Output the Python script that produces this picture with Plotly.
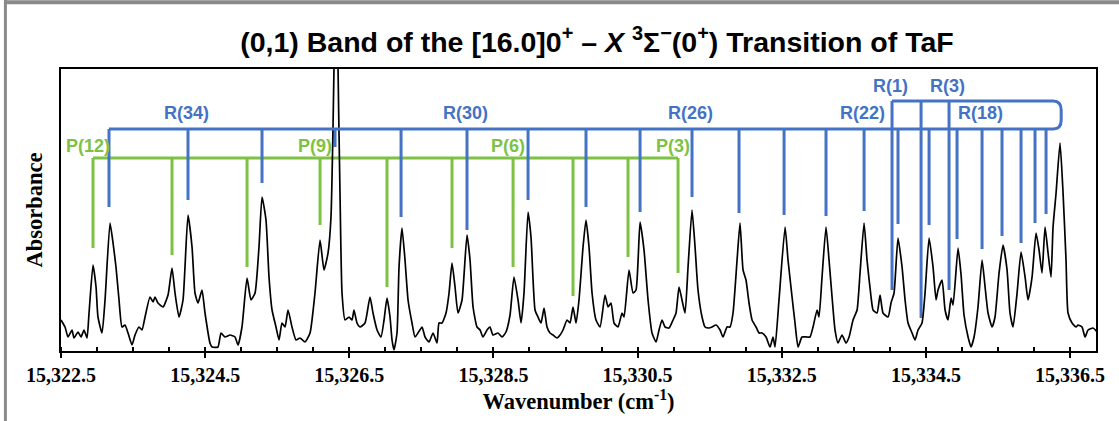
import plotly.graph_objects as go

# ---------------- data ----------------
wavenumber = [
    15322.500, 15322.556, 15322.597, 15322.653, 15322.680, 15322.736, 15322.778, 15322.819, 15322.861, 15322.889,
    15322.944, 15322.986, 15323.013, 15323.069, 15323.111, 15323.180, 15323.222, 15323.263, 15323.305, 15323.346,
    15323.388, 15323.430, 15323.485, 15323.527, 15323.582, 15323.624, 15323.666, 15323.735, 15323.777, 15323.804,
    15323.846, 15323.915, 15323.985, 15324.040, 15324.082, 15324.137, 15324.193, 15324.262, 15324.318, 15324.359,
    15324.401, 15324.456, 15324.498, 15324.567,
    15324.595, 15324.678, 15324.720, 15324.776, 15324.845, 15324.914, 15324.956, 15325.011, 15325.081, 15325.136,
    15325.192, 15325.247, 15325.289, 15325.344, 15325.386, 15325.428, 15325.483, 15325.525, 15325.566, 15325.608,
    15325.650, 15325.705, 15325.761, 15325.816, 15325.886, 15325.955, 15326.024, 15326.094, 15326.149, 15326.205,
    15326.246, 15326.274, 15326.295, 15326.316, 15326.336, 15326.371, 15326.399, 15326.441, 15326.496, 15326.538,
    15326.565, 15326.607,
    15326.649, 15326.718, 15326.787, 15326.829, 15326.885, 15326.940, 15326.982, 15327.023, 15327.065, 15327.093,
    15327.120, 15327.162, 15327.190, 15327.231, 15327.273, 15327.315, 15327.370, 15327.412, 15327.453, 15327.509,
    15327.551, 15327.606, 15327.662, 15327.717, 15327.745, 15327.786, 15327.842, 15327.884, 15327.925, 15327.967,
    15328.008, 15328.064, 15328.133, 15328.175, 15328.217, 15328.272, 15328.314, 15328.355, 15328.411, 15328.452,
    15328.494, 15328.563, 15328.619, 15328.674, 15328.730, 15328.785,
    15328.841, 15328.883, 15328.924, 15328.980, 15329.021, 15329.077, 15329.118, 15329.160, 15329.202, 15329.243,
    15329.285, 15329.327, 15329.382, 15329.424, 15329.465, 15329.521, 15329.562, 15329.604, 15329.646, 15329.687,
    15329.743, 15329.784, 15329.826, 15329.868, 15329.923, 15329.979, 15330.048, 15330.090, 15330.131, 15330.173,
    15330.228, 15330.284, 15330.312, 15330.381, 15330.437, 15330.478, 15330.534, 15330.589, 15330.645, 15330.700,
    15330.756,
    15330.797, 15330.839, 15330.881, 15330.936, 15330.992, 15331.033, 15331.075, 15331.116, 15331.158, 15331.200,
    15331.255, 15331.297, 15331.338, 15331.394, 15331.436, 15331.491, 15331.533, 15331.588, 15331.644, 15331.685,
    15331.741, 15331.782, 15331.824, 15331.880, 15331.921, 15331.963, 15332.004, 15332.046, 15332.088, 15332.143,
    15332.185, 15332.226, 15332.282, 15332.337, 15332.379, 15332.407, 15332.462, 15332.546, 15332.587, 15332.643,
    15332.684, 15332.726, 15332.781, 15332.851,
    15332.892, 15332.934, 15332.990, 15333.017, 15333.059, 15333.114, 15333.156, 15333.198, 15333.239, 15333.281,
    15333.336, 15333.392, 15333.434, 15333.489, 15333.545, 15333.586, 15333.642, 15333.683, 15333.739, 15333.767,
    15333.822, 15333.864, 15333.905, 15333.975, 15334.016, 15334.058, 15334.113, 15334.169, 15334.211, 15334.252,
    15334.308, 15334.349, 15334.391, 15334.446, 15334.488, 15334.544, 15334.599, 15334.641, 15334.668, 15334.724,
    15334.766, 15334.807, 15334.849, 15334.877, 15334.946, 15334.988, 15335.029,
    15335.085, 15335.126, 15335.168, 15335.223, 15335.279, 15335.321, 15335.362, 15335.418, 15335.459, 15335.515,
    15335.570, 15335.626, 15335.667, 15335.709, 15335.765, 15335.820, 15335.876, 15335.917, 15335.973, 15336.028,
    15336.070, 15336.111, 15336.153, 15336.195, 15336.236, 15336.264, 15336.306, 15336.361, 15336.403, 15336.444,
    15336.472, 15336.528, 15336.583, 15336.611, 15336.666, 15336.708, 15336.750, 15336.819, 15336.875,
]
absorbance = [
    0.31, 0.24, 0.14, 0.21, 0.13, 0.19, 0.14, 0.21, 0.13, 0.38,
    0.86, 0.64, 0.34, 0.18, 0.51, 1.28, 1.08, 0.84, 0.51, 0.24,
    0.26, 0.18, 0.06, 0.16, 0.24, 0.21, 0.34, 0.54, 0.49, 0.54,
    0.48, 0.44, 0.56, 0.83, 0.58, 0.34, 0.51, 1.36, 1.04, 0.58,
    0.48, 0.61, 0.38, 0.08,
    0.04, 0.04, 0.18, 0.14, 0.16, 0.14, 0.06, 0.24, 0.73, 0.51,
    0.58, 1.04, 1.54, 1.31, 0.74, 0.41, 0.24, 0.11, 0.28, 0.24,
    0.41, 0.24, 0.11, 0.13, 0.09, 0.18, 0.58, 1.11, 0.81, 0.98,
    1.34, 2.24, 3.21, 5.51, 3.21, 1.58, 0.58, 0.31, 0.34, 0.31,
    0.41, 0.28,
    0.24, 0.28, 0.54, 0.38, 0.21, 0.14, 0.31, 0.53, 0.34, 0.11,
    0.01, 0.18, 0.84, 1.23, 0.91, 0.51, 0.28, 0.14, 0.18, 0.24,
    0.14, 0.09, 0.18, 0.08, 0.28, 0.28, 0.38, 0.58, 0.88, 0.64,
    0.38, 0.51, 1.16, 0.91, 0.44, 0.24, 0.21, 0.14, 0.21, 0.24,
    0.16, 0.18, 0.14, 0.19, 0.36, 0.74,
    0.51, 0.28, 0.58, 1.39, 1.14, 0.41, 0.34, 0.28, 0.43, 0.24,
    0.18, 0.16, 0.13, 0.16, 0.21, 0.31, 0.28, 0.44, 0.28, 0.51,
    1.04, 1.31, 1.04, 0.58, 0.31, 0.24, 0.56, 0.44, 0.48, 0.28,
    0.24, 0.38, 0.34, 0.81, 0.58, 0.61, 1.29, 1.01, 0.51, 0.18,
    0.09,
    0.21, 0.31, 0.24, 0.23, 0.31, 0.38, 0.64, 0.51, 0.38, 0.84,
    1.41, 1.04, 0.61, 0.34, 0.24, 0.23, 0.24, 0.26, 0.21, 0.14,
    0.24, 0.24, 0.38, 0.91, 1.28, 0.81, 0.71, 0.48, 0.31, 0.24,
    0.18, 0.18, 0.14, 0.04, 0.14, 0.04, 0.51, 1.24, 0.91, 0.54,
    0.28, 0.04, 0.14, 0.14,
    0.14, 0.24, 0.41, 0.34, 0.74, 1.24, 0.91, 0.54, 0.21, 0.08,
    0.16, 0.08, 0.14, 0.31, 0.41, 0.78, 1.28, 0.91, 0.54, 0.41,
    0.38, 0.56, 0.38, 0.34, 0.48, 0.58, 1.13, 0.84, 0.51, 0.28,
    0.18, 0.11, 0.21, 0.28, 0.58, 1.13, 0.84, 0.51, 0.61, 0.71,
    0.41, 0.31, 0.53, 0.46, 1.03, 0.76, 0.36,
    0.14, 0.04, 0.14, 0.44, 0.91, 0.64, 0.38, 0.24, 0.34, 0.78,
    1.06, 0.81, 0.38, 0.24, 0.58, 0.99, 0.74, 0.51, 0.74, 1.18,
    1.01, 0.78, 1.24, 0.98, 0.74, 1.24, 1.58, 2.08, 1.58, 0.91,
    0.38, 0.28, 0.24, 0.26, 0.24, 0.14, 0.21, 0.23, 0.19,
]

# R-branch assignment lines (main comb) and where each line stops
r_line_wn = [15323.166, 15324.262, 15325.289, 15326.302, 15327.218, 15328.133, 15328.980, 15329.784,
             15330.534, 15331.255, 15331.907, 15332.532, 15333.114, 15333.642, 15334.113, 15334.544,
             15334.932, 15335.279, 15335.556, 15335.820, 15336.014, 15336.167]
r_line_end = [1.44, 1.51, 1.68, 2.04, 1.34, 1.21, 1.51, 1.44, 1.39, 1.54, 1.38,
              1.36, 1.35, 1.40, 1.27, 1.26, 1.12, 1.02, 1.15, 1.08, 1.28, 1.37]
# low-J R lines hanging from the upper (band-head) bracket
r_low_wn = [15334.030, 15334.433, 15334.821]
r_low_end = [0.61, 0.33, 0.61]
# P-branch lines
p_line_wn = [15322.944, 15324.040, 15325.081, 15326.094, 15327.023, 15327.925, 15328.772,
             15329.604, 15330.367, 15331.061]
p_line_end = [1.03, 0.96, 0.84, 1.26, 0.64, 1.03, 0.84, 0.55, 0.94, 0.78]

r_label_text = ["R(34)", "R(30)", "R(26)", "R(22)", "R(18)"]
r_label_wn = [15324.262, 15328.133, 15331.255, 15333.642, 15335.279]
r_low_label_text = ["R(1)", "R(3)"]
r_low_label_wn = [15334.030, 15334.821]
p_label_text = ["P(12)", "P(9)", "P(6)", "P(3)"]
p_label_wn = [15322.944, 15326.094, 15328.772, 15331.061]

x_tick_vals = [15322.5, 15324.5, 15326.5, 15328.5, 15330.5, 15332.5, 15334.5, 15336.5]
x_tick_text = ["15,322.5", "15,324.5", "15,326.5", "15,328.5", "15,330.5", "15,332.5", "15,334.5", "15,336.5"]

# ---------------- styling / layout constants ----------------
BLUE = "#4472C4"
GREEN = "#7DC242"
R_BAR, R_TOP_BAR, P_BAR = 2.22, 2.50, 1.93
X_RANGE = [15322.5, 15336.86]
Y_RANGE = [0, 2.82]


def comb(xs, ends, bar):
    px, py = [], []
    for x, e in zip(xs, ends):
        px += [x, x, None]
        py += [bar, e, None]
    return px, py


fig = go.Figure()

# P comb
gx, gy = comb(p_line_wn, p_line_end, P_BAR)
gx += [min(p_line_wn), max(p_line_wn)]
gy += [P_BAR, P_BAR]
fig.add_trace(go.Scatter(x=gx, y=gy, mode="lines", line=dict(color=GREEN, width=3),
                         hoverinfo="skip", showlegend=False))
# R comb
bx, by = comb(r_line_wn, r_line_end, R_BAR)
fig.add_trace(go.Scatter(x=bx, y=by, mode="lines", line=dict(color=BLUE, width=3),
                         hoverinfo="skip", showlegend=False))
lx, ly = comb(r_low_wn, r_low_end, R_TOP_BAR)
fig.add_trace(go.Scatter(x=lx, y=ly, mode="lines", line=dict(color=BLUE, width=3),
                         hoverinfo="skip", showlegend=False))

# bracket: upper bar + rounded turn + lower bar
xc = max(r_line_wn) + 0.10
xr = xc + 0.11
path = (f"M {min(r_low_wn)},{R_TOP_BAR} L {xc},{R_TOP_BAR} "
        f"Q {xr},{R_TOP_BAR} {xr},{R_TOP_BAR - 0.09} L {xr},{R_BAR + 0.09} "
        f"Q {xr},{R_BAR} {xc},{R_BAR} L {min(r_line_wn)},{R_BAR}")
fig.add_shape(type="path", path=path, xref="x", yref="y",
              line=dict(color=BLUE, width=3), layer="above")

# spectrum
fig.add_trace(go.Scatter(x=wavenumber, y=absorbance, mode="lines",
                         line=dict(color="black", width=1.7, shape="spline", smoothing=0.5),
                         hoverinfo="skip", showlegend=False))

lab_font = dict(family="Liberation Sans, Arial", size=18, weight="bold")
for t, x in zip(r_label_text, r_label_wn):
    fig.add_annotation(x=x, y=2.38, text=t, showarrow=False, xanchor="center", yanchor="middle",
                       xshift=-2, font=dict(lab_font, color=BLUE))
for t, x in zip(r_low_label_text, r_low_label_wn):
    fig.add_annotation(x=x, y=2.65, text=t, showarrow=False, xanchor="center", yanchor="middle",
                       xshift=-2, font=dict(lab_font, color=BLUE))
for t, x in zip(p_label_text, p_label_wn):
    fig.add_annotation(x=x, y=2.05, text=t, showarrow=False, xanchor="center", yanchor="middle",
                       xshift=-5, font=dict(lab_font, color=GREEN))

# grey page border (top and left)
fig.add_shape(type="line", xref="paper", yref="paper", x0=-0.0537, x1=1.03, y0=1.237, y1=1.237,
              line=dict(color="#8a8a8a", width=4))
fig.add_shape(type="line", xref="paper", yref="paper", x0=-0.0537, x1=-0.0537, y0=-0.26, y1=1.245,
              line=dict(color="#8a8a8a", width=3))

serif = "Liberation Serif, Times New Roman, serif"
fig.update_layout(
    width=1119, height=421,
    margin=dict(l=61, r=23, t=69, b=70),
    paper_bgcolor="white", plot_bgcolor="white",
    title=dict(
        text="(0,1) Band of the [16.0]0<sup>+</sup> – <i>X</i> <sup>3</sup>Σ<sup>−</sup>(0<sup>+</sup>) Transition of TaF",
        x=0.5335, xanchor="center", y=0.90, yanchor="middle",
        font=dict(family="Liberation Sans, Arial", size=28.5, weight="bold", color="black")),
    xaxis=dict(range=X_RANGE, tickmode="array", tickvals=x_tick_vals, ticktext=x_tick_text,
               ticks="outside", ticklen=5, tickwidth=2, tickcolor="black",
               minor=dict(tickmode="linear", tick0=15322.5, dtick=0.5, ticks="inside", ticklen=4,
                          tickwidth=1.5, tickcolor="black"),
               showline=True, linecolor="black", linewidth=2, mirror=True,
               showgrid=False, zeroline=False,
               tickfont=dict(family=serif, size=20, weight="bold", color="black"),
               title=dict(text="Wavenumber (cm<sup>-1</sup>)", standoff=6,
                          font=dict(family=serif, size=22.5, weight="bold", color="black"))),
    yaxis=dict(range=Y_RANGE, showticklabels=False, ticks="", showline=True, linecolor="black",
               linewidth=2, mirror=True, showgrid=False, zeroline=False,
               title=dict(text="Absorbance", standoff=10,
                          font=dict(family=serif, size=22.5, weight="bold", color="black"))),
)

fig.write_html("out.html")
